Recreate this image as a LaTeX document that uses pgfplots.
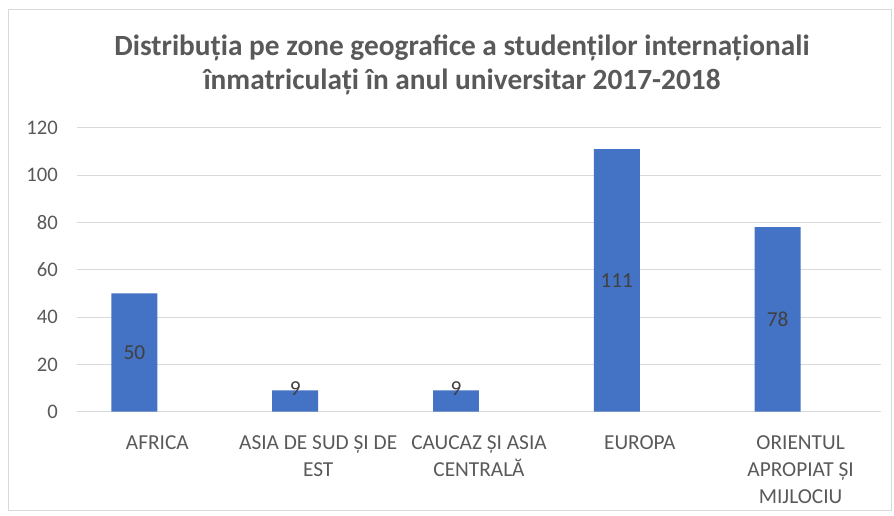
\documentclass[border=0pt]{standalone}
\usepackage{fontspec}
\setmainfont{Carlito}
\usepackage{pgfplots}
\pgfplotsset{compat=1.18}
\definecolor{ExcelBlue}{RGB}{68,114,196}
\definecolor{TextGray}{RGB}{89,89,89}
\definecolor{GridGray}{RGB}{217,217,217}
\definecolor{ValueGray}{RGB}{64,64,64}

\begin{document}
\begin{tikzpicture}
  % page frame (chart area border)
  \path[use as bounding box] (-57.75pt,-77.5pt) rectangle (612.75pt,308.8pt);
  \draw[GridGray, line width=0.75pt] (-51pt,-73.7pt) rectangle (610.5pt,301.3pt);

  \begin{axis}[
    scale only axis,
    width=603pt, height=213pt,
    xmin=-0.5, xmax=4.5,
    ymin=0, ymax=120,
    ytick={0,20,...,120},
    xtick={0,...,4},
    xticklabels={AFRICA, {ASIA DE SUD ȘI DE\\EST}, {CAUCAZ ȘI ASIA\\CENTRALĂ}, EUROPA, {ORIENTUL\\APROPIAT ȘI\\MIJLOCIU}},
    xticklabel style={align=center, font=\fontsize{16}{20}\selectfont, text=TextGray, anchor=north, inner sep=0pt, yshift=-13.7pt},
    yticklabel style={font=\fontsize{15.5}{18}\selectfont, text=TextGray, anchor=east, inner sep=0pt, xshift=-14.25pt},
    /pgf/number format/assume math mode=true,
    axis line style={draw=none},
    major tick style={draw=none},
    ymajorgrids,
    major grid style={GridGray, line width=0.75pt},
    ybar, bar width=0.286, bar shift=-0.143,
    visualization depends on=rawy\as\rawy,
    nodes near coords,
    every node near coord/.append style={anchor=center, font=\fontsize{16}{18}\selectfont, text=ValueGray,
      yshift={-(\rawy-max(\rawy/2,9.6))*1.775}},
  ]
    \addplot[fill=ExcelBlue, draw=none] coordinates {
      (0,50) (1,9) (2,9) (3,111) (4,78)
    };
  \end{axis}

  % chart title
  \node[anchor=base, font=\bfseries\fontsize{22}{26}\selectfont, text=TextGray] at (288.75pt,266.8pt)
    {Distribuția pe zone geografice a studenților internaționali};
  \node[anchor=base, font=\bfseries\fontsize{22}{26}\selectfont, text=TextGray] at (288.75pt,241.3pt)
    {înmatriculați în anul universitar 2017-2018};
\end{tikzpicture}
\end{document}
